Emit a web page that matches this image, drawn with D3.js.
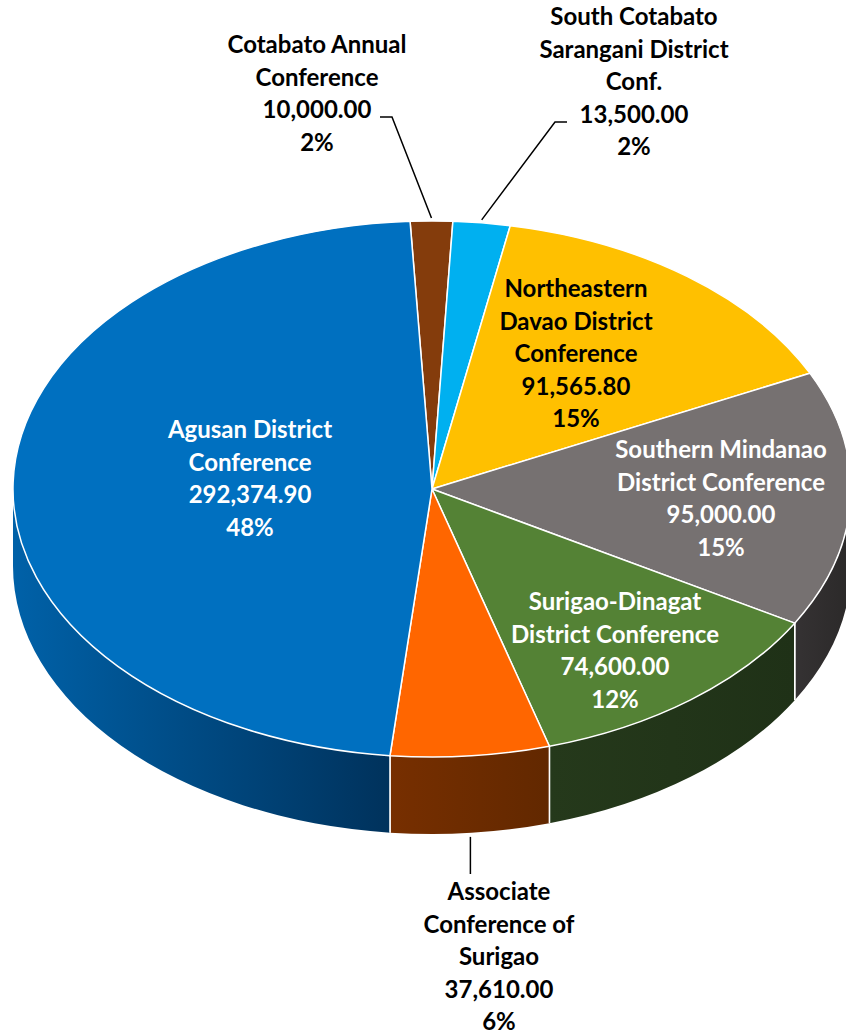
<!DOCTYPE html>
<html>
<head>
<meta charset="utf-8">
<script src="https://cdn.jsdelivr.net/npm/d3@7"></script>
<style>
  html, body { margin: 0; padding: 0; background: #fff; }
  svg text { font-family: Lato, "Open Sans", sans-serif; font-weight: bold; }
</style>
</head>
<body>
<svg id="chart" width="846" height="1034"></svg>
<script>
// data, in the order Excel draws it (clockwise from just left of 12 o'clock)
const categories = [
    "Cotabato Annual Conference",
    "South Cotabato Sarangani District Conf.",
    "Northeastern Davao District Conference",
    "Southern Mindanao District Conference",
    "Surigao-Dinagat District Conference",
    "Associate Conference of Surigao",
    "Agusan District Conference"
];
const values = [10000.00, 13500.00, 91565.80, 95000.00, 74600.00, 37610.00, 292374.90];
// how each category name wraps in its label
const nameLines = [
    ["Cotabato Annual", "Conference"],
    ["South Cotabato", "Sarangani District", "Conf."],
    ["Northeastern", "Davao District", "Conference"],
    ["Southern Mindanao", "District Conference"],
    ["Surigao-Dinagat", "District Conference"],
    ["Associate", "Conference of", "Surigao"],
    ["Agusan District", "Conference"]
];
const colors = ["#843C0C", "#00B0F0", "#FFC000", "#767171", "#548235", "#FF6600", "#0070C0"];
// side wall shading: [left stop, right stop]
const sideColors = [
    ["#5a2808", "#4a2006"],
    ["#0077a3", "#006286"],
    ["#a67d00", "#8a6800"],
    ["#353233", "#2b2929"],
    ["#25391b", "#1f3117"],
    ["#772f00", "#622800"],
    ["#0061a8", "#00325c"]
];

// label layout: text center x, first baseline y, fill, optional leader elbow
const labelLayout = [
    { x: 317, y: 53, fill: "#000", elbow: [[392, 117], [380, 117]] },
    { x: 634, y: 25, fill: "#000", elbow: [[555, 122], [567, 122]] },
    { x: 576, y: 297, fill: "#000" },
    { x: 721, y: 458, fill: "#fff" },
    { x: 615, y: 610, fill: "#fff" },
    { x: 499, y: 900, fill: "#000", below: true },
    { x: 250, y: 438, fill: "#fff" }
];

const svg = d3.select("#chart");
const cx = 432, cy = 489, rx = 419, ry = 268, depth = 77;
const lineH = 32.5;
const fontSize = 24;

const total = d3.sum(values);
const fmtVal = d3.format(",.2f");
const fmtPct = d3.format(".0%");

const start = -3 * Math.PI / 180;
const pie = d3.pie().sort(null).startAngle(start).endAngle(start + 2 * Math.PI);
const arcs = pie(values).map((d, i) => Object.assign(d, { i }));

const pt = (a, dy = 0) => [cx + rx * Math.sin(a), cy - ry * Math.cos(a) + dy];

const defs = svg.append("defs");

// side walls (only the front half, angles PI/2 .. 3PI/2)
const front0 = Math.PI / 2, front1 = 3 * Math.PI / 2;
const norm = a => a < 0 ? a + 2 * Math.PI : a;

arcs.forEach(d => {
    let a0 = norm(d.startAngle), a1 = a0 + (d.endAngle - d.startAngle);
    const s = Math.max(a0, front0), e = Math.min(a1, front1);
    if (e <= s) return;
    const p0 = pt(s), p1 = pt(e), q1 = pt(e, depth), q0 = pt(s, depth);
    const large = (e - s) > Math.PI ? 1 : 0;

    const gid = "side" + d.i;
    const xs = [p0[0], p1[0]].sort((a, b) => a - b);
    const g = defs.append("linearGradient")
        .attr("id", gid)
        .attr("gradientUnits", "userSpaceOnUse")
        .attr("x1", xs[0]).attr("x2", xs[1])
        .attr("y1", 0).attr("y2", 0);
    g.append("stop").attr("offset", "0%").attr("stop-color", sideColors[d.i][0]);
    g.append("stop").attr("offset", "100%").attr("stop-color", sideColors[d.i][1]);

    svg.append("path")
        .attr("d", `M${p0}A${rx},${ry} 0 ${large} 1 ${p1}L${q1}A${rx},${ry} 0 ${large} 0 ${q0}Z`)
        .attr("fill", `url(#${gid})`)
        .attr("stroke", "none");

    // white separators on the wall
    [[p0, q0], [p1, q1]].forEach(([a, b]) => {
        if (Math.abs(a[0] - pt(front0)[0]) < 1 || Math.abs(a[0] - pt(front1)[0]) < 1) return;
        svg.append("line")
            .attr("x1", a[0]).attr("y1", a[1])
            .attr("x2", b[0]).attr("y2", b[1])
            .attr("stroke", "#fff").attr("stroke-width", 1.5);
    });
});

// top faces
arcs.forEach(d => {
    const p0 = pt(d.startAngle), p1 = pt(d.endAngle);
    const large = (d.endAngle - d.startAngle) > Math.PI ? 1 : 0;
    svg.append("path")
        .attr("d", `M${cx},${cy}L${p0}A${rx},${ry} 0 ${large} 1 ${p1}Z`)
        .attr("fill", colors[d.i])
        .attr("stroke", "#fff")
        .attr("stroke-width", 1.5)
        .attr("stroke-linejoin", "round");
});

// leader lines
arcs.forEach(d => {
    const L = labelLayout[d.i];
    const mid = (d.startAngle + d.endAngle) / 2;
    if (L.elbow) {
        const s = pt(mid, -3);
        svg.append("polyline")
            .attr("points", [s, ...L.elbow].map(p => p.join(",")).join(" "))
            .attr("fill", "none")
            .attr("stroke", "#000")
            .attr("stroke-width", 1.5);
    } else if (L.below) {
        const s = pt(mid, depth + 4);
        svg.append("line")
            .attr("x1", s[0]).attr("y1", s[1])
            .attr("x2", s[0]).attr("y2", L.y - 26)
            .attr("stroke", "#000")
            .attr("stroke-width", 1.5);
    }
});

// labels
arcs.forEach(d => {
    const L = labelLayout[d.i];
    const lines = nameLines[d.i].concat([fmtVal(values[d.i]), fmtPct(values[d.i] / total)]);
    const t = svg.append("text")
        .attr("text-anchor", "middle")
        .attr("font-size", fontSize)
        .attr("fill", L.fill);
    lines.forEach((s, k) => {
        t.append("tspan")
            .attr("x", L.x)
            .attr("y", L.y + k * lineH)
            .text(s);
    });
});
</script>
</body>
</html>
